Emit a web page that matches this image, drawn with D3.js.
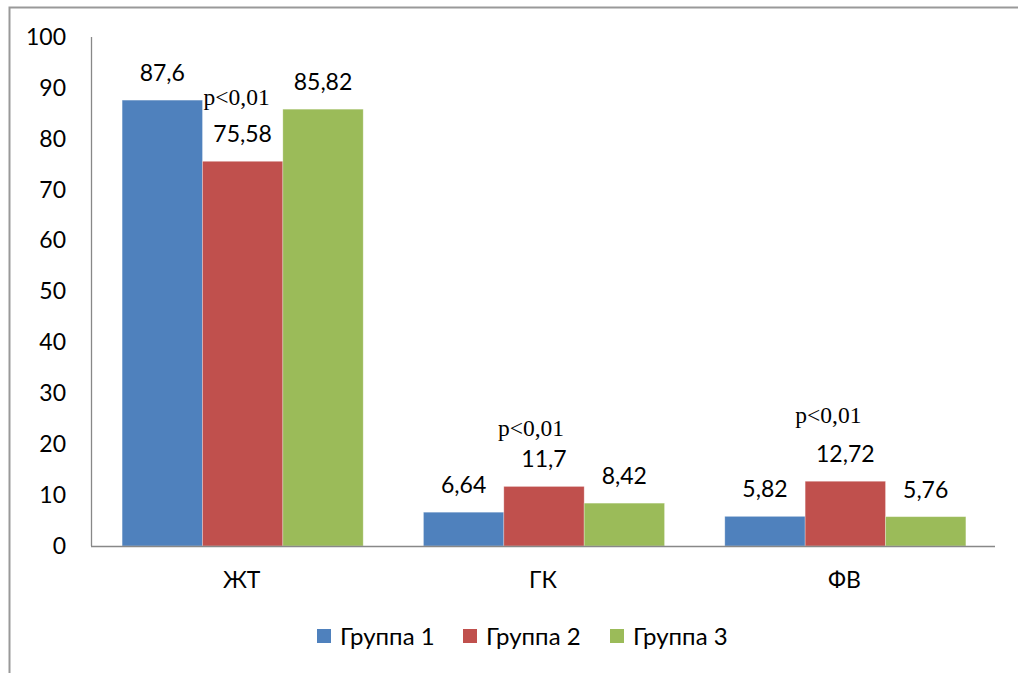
<!DOCTYPE html>
<html>
<head>
<meta charset="utf-8">
<script src="https://cdn.jsdelivr.net/npm/d3@7"></script>
<style>
  html, body { margin: 0; padding: 0; background: #fff; }
  svg { display: block; }
</style>
</head>
<body>
<svg id="chart" width="1018" height="673"></svg>
<script>
// Categories, series and values
const categories = ["ЖТ", "ГК", "ФВ"];
const seriesNames = ["Группа 1", "Группа 2", "Группа 3"];
const group1 = [87.6, 6.64, 5.82];
const group2 = [75.58, 11.7, 12.72];
const group3 = [85.82, 8.42, 5.76];
const valueLabels1 = ["87,6", "6,64", "5,82"];
const valueLabels2 = ["75,58", "11,7", "12,72"];
const valueLabels3 = ["85,82", "8,42", "5,76"];
const yTicks = [0, 10, 20, 30, 40, 50, 60, 70, 80, 90, 100];
const significance = ["p<0,01", "p<0,01", "p<0,01"];
const colors = ["#4F81BD", "#C0504D", "#9BBB59"];

const seriesValues = [group1, group2, group3];
const seriesLabels = [valueLabels1, valueLabels2, valueLabels3];

const svg = d3.select("#chart");
const sansFont = "Lato, 'Open Sans', sans-serif";
const serifFont = "'Liberation Serif', 'Times New Roman', serif";
const fontSize = 23;

// Outer frame (left and top edges visible)
svg.append("path")
  .attr("d", "M9.5,673 L9.5,7.5 L1018,7.5")
  .attr("fill", "none")
  .attr("stroke", "#999")
  .attr("stroke-width", 2);

const plot = { left: 91, right: 995, top: 37, bottom: 546 };

const x0 = d3.scaleBand()
  .domain(categories)
  .range([plot.left, plot.right])
  .paddingInner(0)
  .paddingOuter(0);

const x1 = d3.scaleBand()
  .domain(seriesNames)
  .range([0, x0.bandwidth()])
  .paddingOuter(0.375)
  .paddingInner(0);

const y = d3.scaleLinear()
  .domain([0, 100])
  .range([plot.bottom, plot.top]);

// Y axis tick labels
const yAxis = svg.append("g")
  .attr("transform", `translate(${plot.left},0)`)
  .call(d3.axisLeft(y).tickValues(yTicks).tickSize(0).tickPadding(25).tickFormat(d3.format("d")));
yAxis.select(".domain").remove();
yAxis.selectAll("text")
  .attr("font-family", sansFont)
  .attr("font-size", fontSize)
  .attr("fill", "#000");

// Bars
const groups = svg.append("g").selectAll("g")
  .data(categories)
  .join("g")
  .attr("transform", d => `translate(${x0(d) + 1},0)`);

seriesNames.forEach((s, si) => {
  groups.append("rect")
    .attr("x", x1(s))
    .attr("width", x1.bandwidth())
    .attr("y", (d, ci) => y(seriesValues[si][ci]))
    .attr("height", (d, ci) => y(0) - y(seriesValues[si][ci]))
    .attr("fill", colors[si])
    .attr("stroke", "rgba(255,255,255,0.35)")
    .attr("stroke-width", 0.8);
});

// Axis lines
svg.append("line")
  .attr("x1", plot.left + 0.5).attr("x2", plot.left + 0.5)
  .attr("y1", plot.top).attr("y2", plot.bottom)
  .attr("stroke", "#888").attr("stroke-width", 1.3);
svg.append("line")
  .attr("x1", plot.left).attr("x2", plot.right)
  .attr("y1", plot.bottom + 0.5).attr("y2", plot.bottom + 0.5)
  .attr("stroke", "#888").attr("stroke-width", 1.5);

// Value labels above bars
seriesNames.forEach((s, si) => {
  groups.append("text")
    .attr("x", x1(s) + x1.bandwidth() / 2)
    .attr("y", (d, ci) => y(seriesValues[si][ci]) - 19)
    .attr("text-anchor", "middle")
    .attr("font-family", sansFont)
    .attr("font-size", fontSize)
    .attr("fill", "#000")
    .text((d, ci) => seriesLabels[si][ci]);
});

// Significance markers over Группа 2
const sigOffsets = [[-6, 56], [-13, 50], [-17, 58]];
groups.append("text")
  .attr("x", (d, ci) => x1(seriesNames[1]) + x1.bandwidth() / 2 + sigOffsets[ci][0])
  .attr("y", (d, ci) => y(group2[ci]) - sigOffsets[ci][1])
  .attr("text-anchor", "middle")
  .attr("font-family", serifFont)
  .attr("font-size", 23.5)
  .attr("fill", "#000")
  .text((d, ci) => significance[ci]);

// Category labels
svg.append("g").selectAll("text")
  .data(categories)
  .join("text")
  .attr("x", d => x0(d) + x0.bandwidth() / 2)
  .attr("y", 588)
  .attr("text-anchor", "middle")
  .attr("font-family", sansFont)
  .attr("font-size", fontSize)
  .attr("fill", "#000")
  .text(d => d);

// Legend
const legendX = [317, 463, 610];
const legend = svg.append("g").selectAll("g")
  .data(seriesNames)
  .join("g")
  .attr("transform", (d, i) => `translate(${legendX[i]},629)`);
legend.append("rect")
  .attr("width", 14).attr("height", 14)
  .attr("fill", (d, i) => colors[i]);
legend.append("text")
  .attr("x", 23).attr("y", 16)
  .attr("font-family", sansFont)
  .attr("font-size", 24)
  .attr("fill", "#000")
  .text(d => d);
</script>
</body>
</html>
